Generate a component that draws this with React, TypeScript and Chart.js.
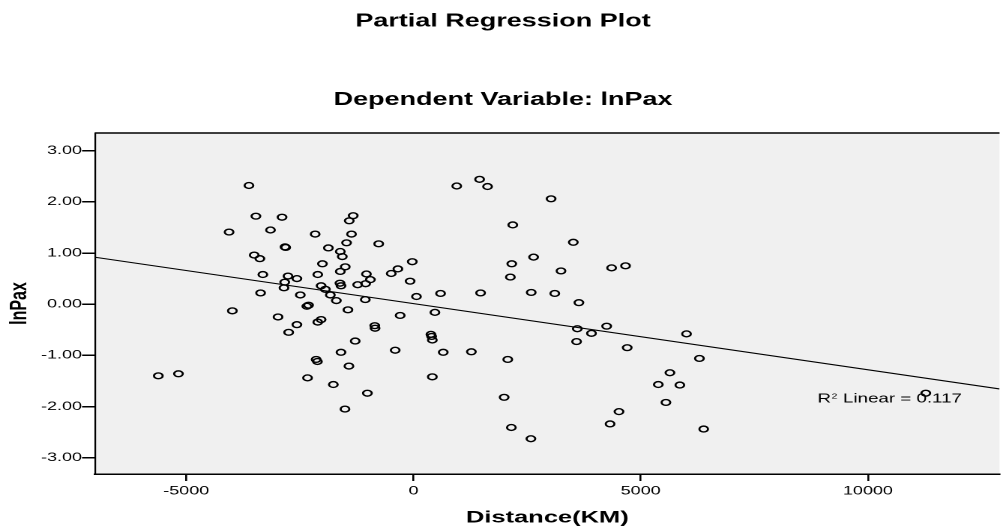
import React, { useEffect, useRef } from "react";
import { Chart, registerables } from "chart.js";

Chart.register(...registerables);

// ---- data ----
const distanceKm = [
  -3620, -3467, -2892, -4057, -3146, -2163, -2827, -2812, -1872, -3504,
  -3380, -2003, -3314, -2761, -2565, -2833, -2106, -2849, -2032, -1938,
  -3364, -2490, -1829, -1697, -2346, -2309, -3985, -2980, -2565, -2106,
  -2032, -2746, -2141, -2113, -5614, -5171, -2331, -1763, -1595, 952,
  1455, 1630, 3028, 2185, -1326, -1413, -1363, -1472, -765, -1610,
  -1566, 3517, 2643, 2163, -26, -343, -489, -1501, -1610, -1035,
  -948, -1053, -1228, -1617, -1595, -74, 2132, 3246, 4360, 4666,
  66, 596, 1477, 2591, 3109, 3640, -1060, -1442, -293, 472,
  -852, -845, 3605, 4251, 384, 400, 415, 3917, 3589, 4703,
  -1282, -1420, -402, 655, 1274, 2075, 415, -1014, -1507, 1995,
  2154, 2584, 4522, 4326, 5387, 6008, 6292, 5643, 5861, 5555,
  6386, 11273,
];

const lnPax = [
  2.32, 1.72, 1.70, 1.41, 1.45, 1.37, 1.12, 1.11, 1.10, 0.96,
  0.89, 0.79, 0.58, 0.55, 0.50, 0.43, 0.58, 0.32, 0.36, 0.29,
  0.22, 0.18, 0.18, 0.07, -0.04, -0.02, -0.13, -0.25, -0.40, -0.35,
  -0.30, -0.55, -1.08, -1.12, -1.40, -1.36, -1.44, -1.57, -0.94, 2.31,
  2.44, 2.30, 2.06, 1.55, 1.73, 1.63, 1.37, 1.20, 1.18, 1.03,
  0.93, 1.21, 0.92, 0.79, 0.83, 0.69, 0.60, 0.73, 0.64, 0.59,
  0.48, 0.40, 0.38, 0.41, 0.36, 0.45, 0.53, 0.65, 0.71, 0.75,
  0.15, 0.21, 0.22, 0.23, 0.21, 0.03, 0.09, -0.11, -0.22, -0.16,
  -0.42, -0.47, -0.48, -0.43, -0.59, -0.63, -0.70, -0.57, -0.73, -0.85,
  -0.72, -1.21, -0.90, -0.94, -0.93, -1.08, -1.42, -1.74, -2.05, -1.82,
  -2.41, -2.63, -2.10, -2.34, -1.57, -0.58, -1.06, -1.34, -1.58, -1.92,
  -2.44, -1.74,
];

// fit line end points (x, y)
const fitLineX = [-7006, 12896];
const fitLineY = [0.917, -1.657];

const xTickValues = [-5000, 0, 5000, 10000];
const yTickValues = [-3, -2, -1, 0, 1, 2, 3];

const chartTitle = "Partial Regression Plot";
const chartSubtitle = "Dependent Variable: lnPax";
const xAxisTitle = "Distance(KM)";
const yAxisTitle = "lnPax";
const r2Base = "R";
const r2Sup = "2";
const r2Rest = " Linear = 0.117";

// ---- presentation ----
const FONT = "'Liberation Sans', Arial, Helvetica, sans-serif";
const LOGICAL_W = 671;
const LOGICAL_H = 531;
const X_MIN = -7006;
const X_MAX = 12896;
const Y_MIN = -3.319;
const Y_MAX = 3.346;
const R2_X = 8890;
const R2_Y = -1.917;

const plotBackground = {
  id: "plotBackground",
  beforeDraw(chart: any) {
    const { ctx, chartArea } = chart;
    if (!chartArea) return;
    ctx.save();
    ctx.fillStyle = "#F0F0F0";
    ctx.fillRect(chartArea.left, chartArea.top, chartArea.right - chartArea.left, chartArea.bottom - chartArea.top);
    ctx.strokeStyle = "#000";
    ctx.lineWidth = 1.5;
    ctx.beginPath();
    ctx.moveTo(chartArea.left, chartArea.top);
    ctx.lineTo(chartArea.right, chartArea.top);
    ctx.stroke();
    ctx.restore();
  },
};

const r2Label = {
  id: "r2Label",
  beforeDatasetsDraw(chart: any) {
    const { ctx, scales } = chart;
    const x0 = scales.x.getPixelForValue(R2_X);
    const yb = scales.y.getPixelForValue(R2_Y);
    ctx.save();
    ctx.fillStyle = "#000";
    ctx.textBaseline = "alphabetic";
    ctx.textAlign = "left";
    ctx.font = `12.5px ${FONT}`;
    ctx.fillText(r2Base, x0, yb);
    const w1 = ctx.measureText(r2Base).width;
    ctx.font = `7px ${FONT}`;
    ctx.fillText(r2Sup, x0 + w1 + 0.3, yb - 4);
    const w2 = ctx.measureText(r2Sup).width;
    ctx.font = `12.5px ${FONT}`;
    ctx.fillText(r2Rest, x0 + w1 + w2 + 0.6, yb);
    ctx.restore();
  },
};

export default function App() {
  const canvasRef = useRef<HTMLCanvasElement | null>(null);

  useEffect(() => {
    const canvas = canvasRef.current;
    if (!canvas) return;
    const points = distanceKm.map((x, i) => ({ x, y: lnPax[i] }));
    const fit = fitLineX.map((x, i) => ({ x, y: fitLineY[i] }));

    const chart = new Chart(canvas, {
      type: "scatter",
      data: {
        datasets: [
          {
            type: "scatter",
            data: points,
            pointStyle: "circle",
            pointRadius: 2.9,
            pointHoverRadius: 2.9,
            borderWidth: 1.4,
            borderColor: "#000",
            backgroundColor: "rgba(0,0,0,0)",
            order: 1,
          } as any,
          {
            type: "line",
            data: fit,
            borderColor: "#000",
            borderWidth: 1.1,
            pointRadius: 0,
            fill: false,
            order: 2,
          } as any,
        ],
      },
      options: {
        responsive: false,
        animation: false,
        devicePixelRatio: 2,
        layout: { padding: 0 },
        events: [],
        plugins: {
          legend: { display: false },
          tooltip: { enabled: false },
          title: {
            display: true,
            text: chartTitle,
            color: "#000",
            font: { family: FONT, size: 18, weight: "bold" },
            padding: { top: 10.9, bottom: 28 },
          },
          subtitle: {
            display: true,
            text: chartSubtitle,
            color: "#000",
            font: { family: FONT, size: 18, weight: "bold" },
            padding: { top: 28.7, bottom: 22.2 },
          },
        },
        scales: {
          x: {
            type: "linear",
            min: X_MIN,
            max: X_MAX,
            afterBuildTicks: (s: any) => {
              s.ticks = xTickValues.map((v) => ({ value: v }));
            },
            afterFit: (s: any) => {
              s.height = 57;
            },
            ticks: {
              color: "#000",
              font: { family: FONT, size: 12 },
              padding: 3,
              maxRotation: 0,
              autoSkip: false,
              callback: (v: any) => String(v),
            },
            grid: {
              drawOnChartArea: false,
              drawTicks: true,
              tickLength: 7,
              color: "#000",
              lineWidth: 1.3,
            },
            border: { display: true, color: "#000", width: 1.5 },
            title: {
              display: true,
              text: xAxisTitle,
              color: "#000",
              font: { family: FONT, size: 17, weight: "bold" },
              padding: { top: 10, bottom: 3.1 },
            },
          },
          y: {
            type: "linear",
            min: Y_MIN,
            max: Y_MAX,
            afterBuildTicks: (s: any) => {
              s.ticks = yTickValues.map((v) => ({ value: v }));
            },
            afterFit: (s: any) => {
              s.width = 63.4;
            },
            ticks: {
              color: "#000",
              font: { family: FONT, size: 12 },
              padding: 0,
              autoSkip: false,
              callback: (v: any) => Number(v).toFixed(2),
            },
            grid: {
              drawOnChartArea: false,
              drawTicks: true,
              tickLength: 8.7,
              color: "#000",
              lineWidth: 1.5,
            },
            border: { display: true, color: "#000", width: 1.1 },
            title: {
              display: true,
              text: yAxisTitle,
              color: "#000",
              font: { family: FONT, size: 16, weight: "bold" },
              padding: { top: 3.7, bottom: 4.4 },
            },
          },
        },
      } as any,
      plugins: [plotBackground, r2Label],
    });

    return () => {
      chart.destroy();
    };
  }, []);

  return (
    <div style={{ position: "fixed", left: 0, top: 0, width: 1006, height: 531, background: "#fff" }}>
      <canvas
        ref={canvasRef}
        width={LOGICAL_W}
        height={LOGICAL_H}
        style={{ width: "1006px", height: "531px", display: "block" }}
      />
    </div>
  );
}
